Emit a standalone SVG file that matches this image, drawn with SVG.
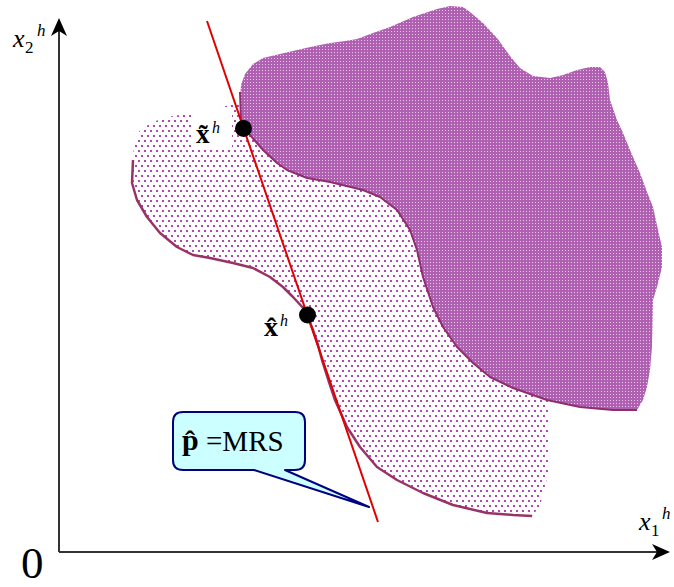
<svg xmlns="http://www.w3.org/2000/svg" width="674" height="587" viewBox="0 0 674 587">
<style>
.axis{stroke:#333;stroke-width:2;fill:none}
.lbl{font-family:"Liberation Serif","Times New Roman",serif;fill:#000}
.it{font-style:italic}
.bd{font-weight:bold}
.border{fill:none;stroke:#993366;stroke-width:2.5;stroke-linejoin:round}
</style>
<defs>
<pattern id="lightDots" patternUnits="userSpaceOnUse" x="0" y="0" width="6" height="10">
<rect x="0" y="0" width="2" height="2" fill="#b048b0"/>
<rect x="3" y="5" width="2" height="2" fill="#b048b0"/>
</pattern>
<pattern id="darkDots" patternUnits="userSpaceOnUse" x="0" y="0" width="3" height="3">
<rect x="0" y="0" width="3" height="3" fill="#b060b0"/>
<rect x="1" y="1" width="1" height="1" fill="#e8c8e8"/>
</pattern>
<marker id="arr" viewBox="0 0 18 18" refX="12" refY="9" markerWidth="18" markerHeight="18" markerUnits="userSpaceOnUse" orient="auto">
<path d="M0,1 L18,9 L0,17 L5,9 Z" fill="#000"/>
</marker>
</defs>
<rect width="674" height="587" fill="#fff"/>

<g id="axes">
<path class="axis" d="M59,552 L59,24" marker-end="url(#arr)"/>
<path class="axis" d="M59,552 L664,552" marker-end="url(#arr)"/>
<text class="lbl" y="47"><tspan class="it" x="13" font-size="26">x</tspan><tspan x="25" y="53" font-size="17">2</tspan><tspan class="it" x="37" y="36" font-size="17">h</tspan></text>
<text class="lbl" y="530"><tspan class="it" x="639" font-size="26">x</tspan><tspan x="651" y="536" font-size="17">1</tspan><tspan class="it" x="662" y="519" font-size="17">h</tspan></text>
<text class="lbl" x="21" y="578" font-size="45">0</text>
</g>

<g id="lower-set">
<path fill="url(#lightDots)" d="M133,160 L132,183 137,200 147,217 160,233 177,247 193,255 210,258 233,263 253,268 270,277 283,287 293,297 305,310 313,330 322,353 335,400 347,427 360,447 377,467 397,480 423,493 453,505 487,513 513,515 532,516 540,506 549,470 549,398 520,385 430,250 380,170 250,100 242,100 237,104 220,107 200,112 180,115 167,117 153,122 140,130 134,143 Z"/>
<path class="border" d="M133,160 L132,183 137,200 147,217 160,233 177,247 193,255 210,258 233,263 253,268 270,277 283,287 293,297 305,310 313,330 318,345 322,360 329,382 335,400 347,427 360,447 377,467 397,480 423,493 453,505 487,513 513,515 532,516"/>
</g>

<g id="upper-set">
<path fill="url(#darkDots)" d="M241,122 L240,100 241,85 245,74 253,64 263,58 280,54 297,50 315,46 330,43 345,41 357,39 373,33 390,27 413,17 437,9 450,6 463,7 470,12 483,23 497,38 510,56 520,68 533,76 550,78 563,75 577,70 590,67 600,67 605,72 608,83 610,100 617,120 623,133 630,150 640,173 647,192 653,207 658,230 662,247 662,267 657,287 653,300 652,347 650,370 647,387 643,400 637,410 613,410 580,407 547,400 513,388 490,377 473,363 457,347 443,327 433,307 423,277 417,250 410,230 397,210 380,197 363,190 330,182 307,178 287,170 277,163 263,150 250,135 Z"/>
<path fill="none" stroke="#8e2e6e" stroke-width="2" stroke-linejoin="round" d="M240,92 L241,122 250,135 263,150 277,163 287,170 307,178 330,182 363,190 380,197 397,210 410,230 417,250 423,277 433,307 443,327 457,347 473,363 490,377 513,388 547,400 580,407 613,410 637,410"/>
</g>

<g id="connectors">
<line id="price-line" x1="207" y1="21" x2="378" y2="522" stroke="#e00000" stroke-width="2"/>
</g>

<g id="point-tilde">
<rect x="192" y="110" width="40" height="38" fill="#fff"/>
<text class="lbl" y="143"><tspan class="bd" x="196" font-size="27">x̃</tspan><tspan class="it" x="212" y="133" font-size="16">h</tspan></text>
<circle cx="243.5" cy="128.5" r="8.5" fill="#000"/>
</g>

<g id="point-hat">
<text class="lbl" y="336"><tspan class="bd" x="264" font-size="28">x̂</tspan><tspan class="it" x="280" y="326" font-size="16">h</tspan></text>
<circle cx="307.5" cy="315" r="8.5" fill="#000"/>
</g>

<g id="callout">
<path d="M183,412 H295 Q305,412 305,422 V460 Q305,470 295,470 H285 L369,507 L254,470 H183 Q173,470 173,460 V422 Q173,412 183,412 Z" fill="#ccffff" stroke="#000080" stroke-width="2" stroke-linejoin="round"/>
<text class="lbl" y="450"><tspan class="bd" x="182" font-size="30">p̂</tspan><tspan x="206" y="451" font-size="29">=MRS</tspan></text>
</g>
</svg>
